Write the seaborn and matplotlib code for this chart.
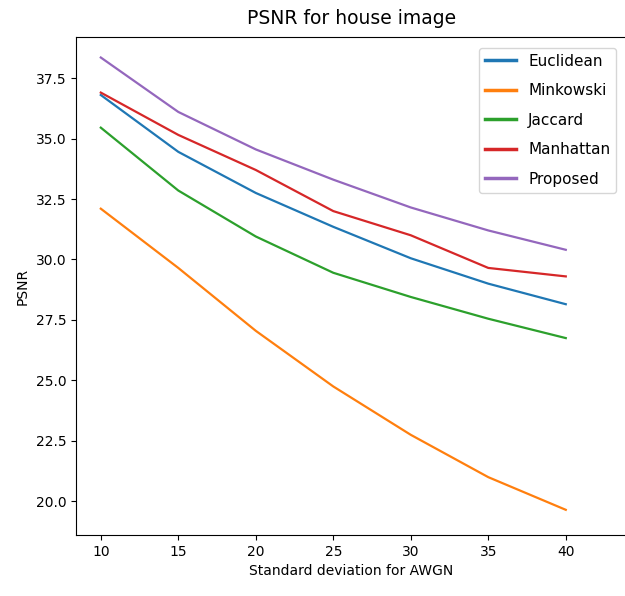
import matplotlib
matplotlib.use("Agg")
import matplotlib.pyplot as plt
import seaborn as sns
import pandas as pd

x = [10, 15, 20, 25, 30, 35, 40]
euclidean = [36.8, 34.45, 32.75, 31.35, 30.05, 29.0, 28.15]
minkowski = [32.1, 29.65, 27.05, 24.75, 22.75, 21.0, 19.65]
jaccard = [35.45, 32.85, 30.95, 29.45, 28.45, 27.55, 26.75]
manhattan = [36.9, 35.15, 33.7, 32.0, 31.0, 29.65, 29.3]
proposed = [38.35, 36.1, 34.55, 33.3, 32.15, 31.2, 30.4]

names = ["Euclidean", "Minkowski", "Jaccard", "Manhattan", "Proposed"]
series = [euclidean, minkowski, jaccard, manhattan, proposed]

df = pd.DataFrame({
    "x": x * len(names),
    "PSNR": sum(series, []),
    "method": sum([[n] * len(x) for n in names], []),
})

fig = plt.figure(figsize=(6.25, 5.96), dpi=100)
ax = fig.add_axes([0.1216, 0.102, 0.8816, 0.836])
sns.lineplot(data=df, x="x", y="PSNR", hue="method", hue_order=names,
             palette=sns.color_palette("tab10", 5), ax=ax, linewidth=1.6)
ax.set_title("PSNR for house image", fontsize=13.5, pad=9)
ax.set_xlabel("Standard deviation for AWGN")
ax.set_ylabel("PSNR")
ax.set_xticks([10, 15, 20, 25, 30, 35, 40])
ax.set_yticks([20.0, 22.5, 25.0, 27.5, 30.0, 32.5, 35.0, 37.5])
ax.set_ylim(18.6, 39.2)
ax.set_xlim(8.4, 43.95)
leg = ax.legend(loc="upper right", title=None, fontsize=11, labelspacing=0.95,
                borderaxespad=0.7)
for h in leg.get_lines():
    h.set_linewidth(2.5)
fig.savefig("out.png", dpi=100)
